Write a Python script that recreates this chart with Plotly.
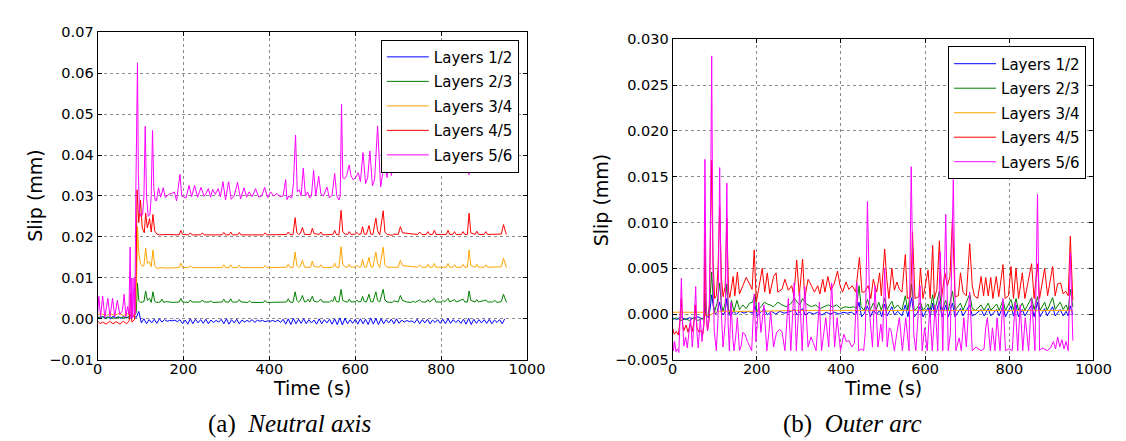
import plotly.graph_objects as go

# ---- (a) Neutral axis : slip between layers (mm) vs time (s) ----
a_blue_step = 6
a_blue = [0.0005, 0.0002, 0.0006, 0.0001, 0.0005, 0.0000, 0.0006, 0.0002, 0.0005, 0.0001,
          0.0006, 0.0002, 0.0004, 0.0000, 0.0008, 0.0003, 0.0018, -0.0010, 0.0000, -0.0012,
          -0.0002, -0.0010, -0.0001, -0.0011, 0.0000, -0.0008, -0.0002, -0.0006, -0.0004, -0.0005,
          -0.0003, -0.0007, -0.0002, -0.0012, -0.0003, -0.0013, 0.0000, -0.0012, -0.0001, -0.0010,
          -0.0002, -0.0011, -0.0001, -0.0012, -0.0003, -0.0009, -0.0004, -0.0008, -0.0001, -0.0012,
          0.0000, -0.0013, -0.0002, -0.0010, -0.0001, -0.0012, -0.0003, -0.0008, -0.0004, -0.0007,
          -0.0002, -0.0009, -0.0003, -0.0006, -0.0004, -0.0007, -0.0005, -0.0006, -0.0004, -0.0007,
          -0.0003, -0.0009, -0.0001, -0.0013, 0.0000, -0.0014, 0.0001, -0.0012, -0.0001, -0.0011,
          0.0000, -0.0012, -0.0002, -0.0010, -0.0003, -0.0013, 0.0000, -0.0012, -0.0002, -0.0010,
          -0.0001, -0.0013, 0.0000, -0.0014, 0.0002, -0.0015, 0.0001, -0.0012, -0.0002, -0.0011,
          -0.0001, -0.0013, 0.0000, -0.0012, -0.0001, -0.0014, 0.0002, -0.0013, 0.0001, -0.0014,
          0.0000, -0.0012, -0.0002, -0.0010, -0.0001, -0.0012, 0.0000, -0.0011, -0.0003, -0.0008,
          -0.0004, -0.0007, -0.0005, -0.0010, -0.0001, -0.0012, -0.0002, -0.0010, -0.0001, -0.0012,
          -0.0003, -0.0009, -0.0002, -0.0011, -0.0001, -0.0012, 0.0000, -0.0011, -0.0002, -0.0009,
          -0.0003, -0.0011, -0.0001, -0.0013, 0.0001, -0.0014, -0.0001, -0.0011, -0.0002, -0.0010,
          -0.0002, -0.0011, -0.0001, -0.0012, -0.0003, -0.0009, -0.0002, -0.0012, 0.0000]
a_blue_t = [i * a_blue_step for i in range(len(a_blue))]

a_green_t = [0, 10, 20, 30, 40, 50, 60, 70, 76, 80, 86, 90, 93, 96, 100, 104, 108, 112, 116, 121,
             125, 129, 133, 138, 146, 150, 154, 160, 175, 190, 194, 198, 212, 216, 220, 240, 244, 248,
             260, 264, 268, 290, 294, 298, 306, 310, 314, 326, 330, 334, 350, 354, 358, 386, 390, 394,
             440, 444, 448, 455, 460, 464, 468, 472, 477, 482, 486, 490, 494, 500, 504, 512, 516, 520,
             524, 540, 544, 548, 552, 556, 562, 567, 571, 576, 582, 586, 590, 600, 604, 608, 613, 617,
             621, 626, 632, 636, 641, 648, 652, 657, 665, 669, 674, 686, 690, 700, 705, 710, 720, 730,
             735, 740, 750, 755, 765, 769, 773, 784, 788, 800, 804, 808, 816, 820, 831, 835, 851, 855,
             861, 865, 869, 879, 883, 887, 904, 908, 920, 925, 930, 940, 945, 950, 952]
a_green = [0.0003, 0.0005, 0.0002, 0.0004, 0.0001, 0.0004, 0.0002, 0.0004, 0.0010, 0.0002, 0.0008,
           0.0015, 0.0087, 0.0045, 0.0040, 0.0041, 0.0042, 0.0068, 0.0045, 0.0050, 0.0040, 0.0066,
           0.0043, 0.0040, 0.0041, 0.0048, 0.0040, 0.0042, 0.0040, 0.0041, 0.0050, 0.0041, 0.0040,
           0.0046, 0.0041, 0.0041, 0.0046, 0.0041, 0.0041, 0.0044, 0.0040, 0.0041, 0.0048, 0.0041,
           0.0041, 0.0049, 0.0041, 0.0041, 0.0047, 0.0041, 0.0040, 0.0044, 0.0040, 0.0040, 0.0045,
           0.0040, 0.0041, 0.0049, 0.0041, 0.0040, 0.0066, 0.0045, 0.0041, 0.0044, 0.0057, 0.0041,
           0.0042, 0.0048, 0.0041, 0.0055, 0.0043, 0.0041, 0.0045, 0.0048, 0.0041, 0.0041, 0.0045,
           0.0042, 0.0055, 0.0042, 0.0041, 0.0072, 0.0045, 0.0042, 0.0041, 0.0048, 0.0041, 0.0042,
           0.0046, 0.0041, 0.0042, 0.0055, 0.0042, 0.0041, 0.0060, 0.0042, 0.0041, 0.0066, 0.0045,
           0.0041, 0.0072, 0.0046, 0.0041, 0.0040, 0.0044, 0.0041, 0.0057, 0.0045, 0.0041, 0.0040,
           0.0043, 0.0040, 0.0046, 0.0041, 0.0041, 0.0047, 0.0041, 0.0050, 0.0041, 0.0041, 0.0045,
           0.0041, 0.0050, 0.0041, 0.0047, 0.0041, 0.0048, 0.0041, 0.0041, 0.0068, 0.0045, 0.0041,
           0.0047, 0.0041, 0.0046, 0.0041, 0.0041, 0.0045, 0.0040, 0.0042, 0.0060, 0.0045, 0.0040]

a_orange_t = [0, 10, 20, 30, 40, 50, 60, 70, 76, 80, 84, 88, 91, 93, 96, 100, 104, 108, 112, 116,
              121, 125, 129, 133, 138, 150, 160, 190, 194, 198, 212, 216, 220, 290, 294, 298, 306,
              310, 314, 326, 330, 334, 386, 390, 394, 440, 444, 448, 455, 460, 464, 468, 472, 477,
              482, 496, 500, 504, 516, 520, 524, 548, 552, 556, 562, 567, 571, 576, 582, 586, 590,
              600, 604, 608, 613, 617, 621, 626, 632, 636, 641, 648, 652, 657, 665, 669, 674, 700,
              705, 710, 745, 750, 755, 765, 769, 773, 780, 784, 788, 812, 816, 820, 827, 831, 835,
              847, 851, 855, 861, 865, 869, 879, 883, 887, 900, 904, 908, 940, 945, 950, 952]
a_orange = [0.0010, 0.0012, 0.0008, 0.0012, 0.0009, 0.0013, 0.0008, 0.0012, 0.0010, 0.0020, 0.0005,
            0.0010, 0.0100, 0.0225, 0.0160, 0.0135, 0.0128, 0.0130, 0.0173, 0.0135, 0.0140, 0.0127,
            0.0168, 0.0130, 0.0123, 0.0125, 0.0124, 0.0125, 0.0136, 0.0125, 0.0125, 0.0130, 0.0125,
            0.0125, 0.0132, 0.0125, 0.0125, 0.0132, 0.0125, 0.0125, 0.0131, 0.0125, 0.0125, 0.0130,
            0.0125, 0.0126, 0.0133, 0.0126, 0.0125, 0.0163, 0.0130, 0.0126, 0.0128, 0.0143, 0.0126,
            0.0126, 0.0141, 0.0128, 0.0126, 0.0132, 0.0125, 0.0126, 0.0136, 0.0126, 0.0125, 0.0176,
            0.0132, 0.0127, 0.0126, 0.0133, 0.0126, 0.0127, 0.0131, 0.0126, 0.0127, 0.0145, 0.0127,
            0.0126, 0.0150, 0.0127, 0.0126, 0.0163, 0.0135, 0.0125, 0.0175, 0.0132, 0.0126, 0.0126,
            0.0143, 0.0130, 0.0126, 0.0132, 0.0126, 0.0126, 0.0133, 0.0126, 0.0126, 0.0135, 0.0126,
            0.0126, 0.0135, 0.0126, 0.0126, 0.0132, 0.0126, 0.0126, 0.0133, 0.0126, 0.0126, 0.0168,
            0.0130, 0.0126, 0.0133, 0.0126, 0.0126, 0.0132, 0.0126, 0.0127, 0.0148, 0.0130, 0.0125]

a_red_t = [0, 6, 12, 20, 28, 36, 44, 52, 60, 68, 74, 77, 80, 86, 90, 92, 96, 100, 104, 109, 112,
           116, 121, 125, 129, 133, 138, 145, 160, 190, 194, 198, 212, 216, 220, 240, 244, 248, 290,
           294, 298, 306, 310, 314, 326, 330, 334, 386, 390, 394, 440, 444, 448, 455, 460, 464, 468,
           472, 477, 482, 496, 500, 504, 516, 520, 524, 548, 552, 556, 562, 567, 571, 576, 582, 586,
           590, 600, 604, 608, 613, 617, 621, 626, 632, 636, 641, 648, 652, 657, 665, 669, 674, 686,
           690, 700, 705, 710, 745, 750, 755, 765, 769, 773, 780, 784, 788, 812, 816, 820, 827, 831,
           835, 847, 851, 855, 861, 865, 869, 879, 883, 887, 900, 904, 908, 940, 945, 950, 952]
a_red = [-0.0005, -0.0012, -0.0008, -0.0013, -0.0006, -0.0012, -0.0007, -0.0013, -0.0006, -0.0012,
         -0.0004, 0.0062, -0.0008, -0.0002, 0.0120, 0.0315, 0.0235, 0.0290, 0.0222, 0.0210, 0.0258,
         0.0222, 0.0245, 0.0212, 0.0255, 0.0215, 0.0207, 0.0205, 0.0206, 0.0205, 0.0216, 0.0206,
         0.0205, 0.0210, 0.0205, 0.0205, 0.0210, 0.0205, 0.0205, 0.0211, 0.0205, 0.0205, 0.0212,
         0.0205, 0.0205, 0.0211, 0.0205, 0.0205, 0.0210, 0.0205, 0.0206, 0.0212, 0.0206, 0.0205,
         0.0247, 0.0210, 0.0206, 0.0208, 0.0223, 0.0206, 0.0206, 0.0221, 0.0208, 0.0206, 0.0212,
         0.0205, 0.0206, 0.0216, 0.0206, 0.0205, 0.0265, 0.0212, 0.0207, 0.0206, 0.0213, 0.0206,
         0.0207, 0.0211, 0.0206, 0.0207, 0.0225, 0.0207, 0.0206, 0.0228, 0.0207, 0.0206, 0.0246,
         0.0215, 0.0205, 0.0264, 0.0212, 0.0206, 0.0204, 0.0207, 0.0206, 0.0225, 0.0210, 0.0206,
         0.0212, 0.0206, 0.0206, 0.0213, 0.0206, 0.0206, 0.0216, 0.0206, 0.0206, 0.0216, 0.0206,
         0.0206, 0.0213, 0.0206, 0.0206, 0.0213, 0.0206, 0.0206, 0.0258, 0.0210, 0.0206, 0.0214,
         0.0206, 0.0206, 0.0213, 0.0206, 0.0207, 0.0230, 0.0212, 0.0206]

a_magenta_t = [0, 3, 7, 12, 17, 24, 29, 35, 40, 46, 52, 58, 62, 66, 70, 73, 76, 78, 80, 82, 85, 87,
               89, 91, 93, 95, 98, 101, 105, 108, 111, 114, 118, 122, 125, 128, 131, 134, 137, 142,
               147, 153, 158, 166, 173, 179, 184, 192, 196, 200, 206, 213, 219, 226, 233, 241, 248,
               252, 258, 263, 268, 274, 281, 286, 292, 298, 305, 311, 318, 326, 333, 341, 347, 353,
               360, 368, 375, 382, 389, 396, 403, 410, 418, 425, 432, 438, 441, 445, 452, 456, 461,
               465, 470, 474, 479, 484, 489, 494, 498, 503, 508, 515, 520, 526, 534, 540, 546, 552,
               557, 562, 565, 568, 571, 575, 580, 586, 590, 595, 601, 607, 612, 618, 624, 629, 634,
               640, 645, 652, 659, 664, 669, 674, 679, 684, 690, 696, 701, 707, 712, 718, 723, 729,
               734, 740, 746, 751, 757, 763, 769, 775, 781, 787, 793, 799, 805, 811, 817, 823, 829,
               835, 841, 847, 853, 859, 865, 871, 877, 883, 889, 895, 901, 907, 913, 919, 925, 931,
               937, 943, 947, 952]
a_magenta = [0.0010, 0.0055, 0.0005, 0.0055, 0.0003, 0.0050, 0.0005, 0.0050, 0.0004, 0.0045,
             0.0010, 0.0020, 0.0060, 0.0005, 0.0030, 0.0010, 0.0175, 0.0000, 0.0100, 0.0003,
             0.0100, 0.0010, 0.0300, 0.0450, 0.0625, 0.0350, 0.0260, 0.0250, 0.0255, 0.0300,
             0.0470, 0.0300, 0.0250, 0.0255, 0.0300, 0.0460, 0.0320, 0.0290, 0.0288, 0.0320,
             0.0297, 0.0320, 0.0296, 0.0304, 0.0306, 0.0310, 0.0288, 0.0353, 0.0300, 0.0298,
             0.0295, 0.0326, 0.0298, 0.0326, 0.0297, 0.0321, 0.0299, 0.0305, 0.0318, 0.0297,
             0.0316, 0.0304, 0.0318, 0.0298, 0.0335, 0.0290, 0.0335, 0.0292, 0.0300, 0.0333,
             0.0293, 0.0320, 0.0297, 0.0310, 0.0298, 0.0318, 0.0297, 0.0300, 0.0321, 0.0296,
             0.0310, 0.0300, 0.0306, 0.0298, 0.0300, 0.0340, 0.0291, 0.0300, 0.0295, 0.0330,
             0.0449, 0.0310, 0.0315, 0.0300, 0.0368, 0.0300, 0.0310, 0.0295, 0.0300, 0.0363,
             0.0300, 0.0348, 0.0305, 0.0300, 0.0322, 0.0295, 0.0302, 0.0355, 0.0300, 0.0290,
             0.0300, 0.0524, 0.0345, 0.0342, 0.0350, 0.0376, 0.0350, 0.0340, 0.0345, 0.0357,
             0.0335, 0.0406, 0.0330, 0.0345, 0.0410, 0.0325, 0.0340, 0.0471, 0.0322, 0.0355,
             0.0395, 0.0345, 0.0400, 0.0350, 0.0385, 0.0365, 0.0410, 0.0375, 0.0395, 0.0370,
             0.0390, 0.0375, 0.0392, 0.0368, 0.0400, 0.0375, 0.0395, 0.0365, 0.0400, 0.0362,
             0.0395, 0.0370, 0.0405, 0.0360, 0.0398, 0.0370, 0.0392, 0.0365, 0.0400, 0.0375,
             0.0395, 0.0370, 0.0405, 0.0365, 0.0352, 0.0395, 0.0380, 0.0400, 0.0385, 0.0405,
             0.0380, 0.0400, 0.0385, 0.0395, 0.0390, 0.0400, 0.0372, 0.0395, 0.0385, 0.0375]

# ---- (b) Outer arc ----
b_blue_t = [0, 10, 20, 30, 40, 50, 60, 70, 75, 77, 80, 85, 89, 93, 97, 101, 106, 112, 116, 121, 125,
            129, 133, 138, 145, 152, 160, 170, 180, 190, 196, 201, 210, 218, 225, 235, 245, 255, 265,
            275, 290, 296, 309, 315, 325, 335, 345, 355, 365, 375, 385, 395, 405, 415, 425, 435, 443,
            449, 456, 463, 470, 477, 485, 492, 497, 504, 510, 521, 527, 535, 545, 553, 559, 568, 574,
            580, 589, 595, 607, 612, 618, 623, 634, 640, 649, 655, 665, 671, 684, 690, 706, 712, 720,
            733, 740, 750, 756, 770, 776, 785, 791, 804, 810, 816, 822, 831, 837, 853, 859, 867, 873,
            884, 890, 903, 909, 921, 928, 935, 940, 945, 951]
b_blue = [-0.0004, -0.0006, -0.0003, -0.0006, -0.0004, -0.0005, -0.0003, -0.0005, -0.0004, 0.0012,
          -0.0002, -0.0004, 0.0005, 0.0021, 0.0008, 0.0000, 0.0002, 0.0013, 0.0002, -0.0001, 0.0003,
          0.0017, 0.0000, -0.0002, 0.0003, 0.0000, 0.0003, 0.0001, 0.0003, 0.0001, 0.0009, -0.0002,
          0.0002, 0.0006, -0.0001, 0.0003, 0.0000, 0.0003, 0.0001, 0.0002, 0.0005, -0.0001, 0.0006,
          -0.0001, 0.0002, 0.0000, 0.0002, -0.0001, 0.0002, 0.0000, 0.0002, 0.0000, 0.0002, 0.0001,
          0.0002, -0.0001, 0.0013, -0.0003, 0.0001, 0.0009, -0.0003, 0.0004, 0.0000, 0.0004, -0.0003,
          0.0011, -0.0002, 0.0008, -0.0001, 0.0003, -0.0002, 0.0010, -0.0003, 0.0018, -0.0003, 0.0000,
          0.0009, -0.0003, 0.0007, -0.0003, 0.0012, -0.0003, 0.0014, -0.0003, 0.0010, -0.0003, 0.0012,
          -0.0003, 0.0006, -0.0002, 0.0010, -0.0002, 0.0000, 0.0005, -0.0002, 0.0006, -0.0002, 0.0005,
          -0.0002, 0.0009, -0.0003, 0.0009, -0.0002, 0.0010, -0.0003, 0.0005, -0.0002, 0.0010,
          -0.0003, 0.0013, -0.0003, 0.0006, -0.0002, 0.0008, -0.0002, 0.0005, -0.0002, 0.0003,
          -0.0002, 0.0009, -0.0001]

b_green_t = [0, 10, 20, 30, 40, 50, 60, 70, 75, 77, 80, 84, 88, 93, 97, 100, 106, 112, 116, 120, 125,
             129, 133, 136, 140, 146, 153, 159, 167, 175, 183, 190, 196, 200, 210, 218, 225, 232, 240,
             250, 260, 270, 280, 290, 296, 302, 309, 318, 330, 340, 350, 360, 370, 380, 390, 400, 410,
             420, 430, 437, 443, 448, 455, 463, 470, 477, 484, 490, 496, 504, 510, 521, 527, 535, 545,
             553, 559, 568, 574, 580, 589, 595, 607, 612, 618, 623, 634, 640, 649, 655, 665, 671, 684,
             690, 706, 712, 720, 733, 740, 750, 756, 770, 776, 785, 791, 804, 810, 816, 822, 831, 837,
             853, 859, 867, 873, 884, 890, 903, 909, 921, 928, 935, 940, 945, 951]
b_green = [-0.0006, -0.0004, -0.0007, -0.0005, -0.0007, -0.0004, -0.0007, -0.0005, -0.0006, 0.0022,
           0.0000, -0.0002, 0.0010, 0.0046, 0.0010, 0.0003, 0.0012, 0.0034, 0.0010, 0.0003, 0.0012,
           0.0033, 0.0005, 0.0000, 0.0015, 0.0003, 0.0015, 0.0005, 0.0010, 0.0006, 0.0012, 0.0013,
           0.0022, 0.0003, 0.0008, 0.0013, 0.0011, 0.0010, 0.0008, 0.0013, 0.0010, 0.0008, 0.0011,
           0.0017, 0.0013, 0.0010, 0.0017, 0.0011, 0.0008, 0.0010, 0.0006, 0.0008, 0.0010, 0.0008,
           0.0010, 0.0006, 0.0008, 0.0007, 0.0008, 0.0006, 0.0031, 0.0008, 0.0004, 0.0016, 0.0005,
           0.0012, 0.0005, 0.0013, 0.0004, 0.0017, 0.0005, 0.0014, 0.0006, 0.0010, 0.0004, 0.0020,
           0.0004, 0.0033, 0.0004, 0.0006, 0.0013, 0.0004, 0.0011, 0.0004, 0.0021, 0.0004, 0.0025,
           0.0004, 0.0015, 0.0004, 0.0025, 0.0004, 0.0012, 0.0004, 0.0022, 0.0006, 0.0004, 0.0010,
           0.0004, 0.0012, 0.0004, 0.0011, 0.0004, 0.0015, 0.0004, 0.0016, 0.0005, 0.0017, 0.0004,
           0.0012, 0.0004, 0.0018, 0.0005, 0.0019, 0.0004, 0.0013, 0.0004, 0.0018, 0.0005, 0.0013,
           0.0005, 0.0010, 0.0004, 0.0027, 0.0008]

b_orange_t = [0, 20, 40, 60, 75, 80, 90, 100, 120, 150, 200, 300, 400, 500, 600, 700, 800, 900, 951]
b_orange = [0.0002, 0.0002, 0.0002, 0.0002, 0.0002, -0.0002, -0.0001, 0.0002, 0.0003, 0.0003,
            0.0003, 0.0004, 0.0004, 0.0004, 0.0004, 0.0004, 0.0004, 0.0004, 0.0004]

b_red_t = [0, 4, 9, 14, 18, 21, 24, 27, 32, 37, 42, 47, 52, 54, 58, 63, 68, 72, 75, 77, 80, 83, 87,
           90, 93, 96, 100, 104, 108, 112, 116, 120, 125, 129, 133, 136, 140, 144, 148, 154, 159, 167,
           175, 183, 189, 194, 199, 206, 213, 219, 225, 231, 240, 246, 250, 260, 267, 275, 283, 288,
           295, 301, 309, 314, 322, 330, 337, 345, 350, 357, 362, 369, 376, 384, 392, 398, 404, 412,
           419, 427, 435, 444, 450, 456, 465, 471, 477, 485, 492, 496, 504, 509, 514, 521, 527, 533,
           539, 545, 553, 558, 566, 570, 576, 585, 589, 595, 601, 607, 612, 618, 622, 628, 634, 639,
           647, 653, 659, 665, 671, 679, 684, 690, 698, 706, 712, 717, 725, 733, 739, 744, 750, 756,
           761, 769, 775, 785, 790, 798, 804, 810, 816, 822, 831, 837, 853, 859, 867, 872, 884, 891,
           903, 909, 915, 922, 928, 934, 940, 945, 951]
b_red = [-0.0015, -0.0022, -0.0019, -0.0023, -0.0005, 0.0017, -0.0012, -0.0018, -0.0012, -0.0020,
         -0.0010, -0.0019, -0.0005, 0.0010, -0.0015, -0.0020, -0.0018, -0.0022, -0.0010, 0.0088,
         0.0000, -0.0018, -0.0005, 0.0080, 0.0168, 0.0060, 0.0017, 0.0020, 0.0050, 0.0117, 0.0040,
         0.0019, 0.0030, 0.0105, 0.0025, 0.0018, 0.0031, 0.0041, 0.0020, 0.0046, 0.0022, 0.0030,
         0.0040, 0.0033, 0.0027, 0.0070, 0.0013, 0.0031, 0.0050, 0.0024, 0.0045, 0.0022, 0.0041,
         0.0045, 0.0024, 0.0027, 0.0038, 0.0026, 0.0031, 0.0020, 0.0059, 0.0020, 0.0060, 0.0017,
         0.0038, 0.0031, 0.0024, 0.0031, 0.0022, 0.0038, 0.0024, 0.0041, 0.0026, 0.0033, 0.0047,
         0.0031, 0.0024, 0.0035, 0.0027, 0.0031, 0.0024, 0.0062, 0.0024, 0.0024, 0.0031, 0.0017,
         0.0038, 0.0024, 0.0045, 0.0020, 0.0071, 0.0038, 0.0017, 0.0050, 0.0026, 0.0035, 0.0027,
         0.0024, 0.0065, 0.0017, 0.0019, 0.0090, 0.0017, 0.0019, 0.0050, 0.0017, 0.0031, 0.0048,
         0.0017, 0.0075, 0.0017, 0.0027, 0.0080, 0.0017, 0.0045, 0.0031, 0.0041, 0.0105, 0.0019,
         0.0020, 0.0045, 0.0024, 0.0020, 0.0077, 0.0031, 0.0020, 0.0017, 0.0041, 0.0020, 0.0040,
         0.0020, 0.0040, 0.0017, 0.0041, 0.0019, 0.0054, 0.0017, 0.0020, 0.0052, 0.0017, 0.0050,
         0.0017, 0.0045, 0.0017, 0.0055, 0.0017, 0.0055, 0.0017, 0.0050, 0.0020, 0.0052, 0.0020,
         0.0033, 0.0034, 0.0022, 0.0025, 0.0020, 0.0085, 0.0015]

b_magenta_t = [0, 2, 5, 8, 12, 15, 19, 21, 24, 27, 31, 35, 39, 43, 47, 51, 55, 58, 61, 66, 70, 74, 77,
               80, 83, 87, 90, 93, 96, 99, 104, 108, 112, 116, 120, 125, 129, 132, 135, 139, 143, 146,
               150, 154, 159, 163, 167, 172, 178, 183, 188, 194, 198, 205, 210, 217, 224, 229, 233,
               240, 247, 254, 260, 267, 275, 281, 289, 294, 302, 308, 314, 322, 329, 335, 341, 349,
               354, 364, 371, 378, 385, 391, 399, 407, 413, 419, 426, 432, 438, 442, 448, 454, 458,
               463, 469, 475, 481, 488, 495, 499, 504, 510, 515, 519, 527, 533, 539, 546, 554, 562,
               567, 573, 578, 588, 593, 599, 605, 611, 617, 624, 630, 636, 642, 649, 655, 660, 667,
               673, 681, 686, 692, 698, 706, 712, 721, 733, 740, 744, 748, 755, 760, 766, 771, 778,
               785, 791, 799, 807, 814, 820, 826, 832, 838, 846, 853, 861, 867, 872, 878, 890, 898,
               905, 910, 915, 920, 925, 930, 935, 940, 945, 949, 951]
b_magenta = [-0.0028, -0.0040, -0.0030, -0.0041, -0.0038, -0.0042, 0.0010, 0.0039, -0.0010, -0.0035,
             -0.0025, -0.0037, -0.0020, -0.0005, -0.0036, -0.0010, 0.0030, -0.0020, -0.0037, -0.0005,
             -0.0030, -0.0010, 0.0169, 0.0000, -0.0018, -0.0005, 0.0100, 0.0282, 0.0050, -0.0018,
             -0.0040, -0.0005, 0.0160, 0.0000, -0.0036, -0.0010, 0.0143, -0.0010, -0.0040, 0.0013,
             -0.0025, -0.0040, -0.0025, -0.0004, -0.0040, -0.0035, -0.0020, -0.0022, -0.0030,
             -0.0036, -0.0040, 0.0022, -0.0030, 0.0013, -0.0020, 0.0010, -0.0040, -0.0020, 0.0003,
             -0.0036, -0.0020, -0.0017, -0.0019, -0.0040, 0.0017, -0.0040, 0.0034, -0.0040, 0.0024,
             -0.0040, 0.0030, -0.0036, -0.0025, -0.0032, -0.0040, 0.0013, -0.0040, -0.0004, -0.0036,
             0.0034, -0.0036, -0.0004, -0.0040, -0.0022, -0.0030, -0.0029, -0.0036, -0.0032, 0.0034,
             -0.0040, -0.0038, -0.0040, -0.0020, 0.0123, -0.0004, -0.0036, 0.0031, -0.0036, -0.0011,
             -0.0030, 0.0050, -0.0036, -0.0015, -0.0018, -0.0040, -0.0020, -0.0004, -0.0040, -0.0004,
             -0.0040, 0.0161, -0.0022, -0.0040, 0.0031, -0.0040, -0.0015, -0.0040, 0.0006, -0.0040,
             0.0010, -0.0040, 0.0068, -0.0040, 0.0109, -0.0040, -0.0022, 0.0147, -0.0040, -0.0026,
             -0.0040, -0.0004, -0.0036, 0.0024, -0.0040, -0.0036, -0.0040, -0.0038, -0.0015, -0.0004,
             -0.0040, -0.0015, -0.0040, -0.0004, -0.0040, 0.0017, -0.0040, -0.0038, -0.0040, 0.0013,
             -0.0040, 0.0010, -0.0040, -0.0004, -0.0040, 0.0017, -0.0040, 0.0131, -0.0040, -0.0037,
             -0.0040, -0.0037, -0.0030, -0.0038, -0.0025, -0.0036, -0.0028, -0.0038, -0.0030, -0.0040,
             0.0067, -0.0020, -0.0029]

names = ["Layers 1/2", "Layers 2/3", "Layers 3/4", "Layers 4/5", "Layers 5/6"]
colors = ["#0000ff", "#008000", "#ffa500", "#ff0000", "#ff00ff"]

W, H = 1126, 441


def fx(px):
    return px / W


def fy(py):
    return 1 - py / H


fig = go.Figure()

panel_a = [(a_blue_t, a_blue), (a_green_t, a_green), (a_orange_t, a_orange),
           (a_red_t, a_red), (a_magenta_t, a_magenta)]
panel_b = [(b_blue_t, b_blue), (b_green_t, b_green), (b_orange_t, b_orange),
           (b_red_t, b_red), (b_magenta_t, b_magenta)]

for i, (t, v) in enumerate(panel_a):
    fig.add_trace(go.Scatter(x=t, y=v, mode="lines", name=names[i],
                             line=dict(color=colors[i], width=1),
                             xaxis="x", yaxis="y", legend="legend",
                             legendgroup="a%d" % i))
for i, (t, v) in enumerate(panel_b):
    fig.add_trace(go.Scatter(x=t, y=v, mode="lines", name=names[i],
                             line=dict(color=colors[i], width=1),
                             xaxis="x2", yaxis="y2", legend="legend2",
                             legendgroup="b%d" % i))

tick_font = dict(family="DejaVu Sans", size=14.5, color="black")
axis_style = dict(showline=True, linecolor="black", linewidth=1, mirror="ticks",
                  ticks="inside", ticklen=4, tickcolor="black",
                  showgrid=True, gridcolor="#8c8c8c", griddash="dot", gridwidth=1,
                  zeroline=False, tickfont=tick_font)

legend_style = dict(xanchor="right", yanchor="top", bgcolor="white",
                    bordercolor="black", borderwidth=1, tracegroupgap=2, itemwidth=42,
                    font=dict(family="DejaVu Sans", size=15, color="black"))

fig.update_layout(
    width=W, height=H,
    margin=dict(l=0, r=0, t=0, b=0),
    paper_bgcolor="white", plot_bgcolor="white",
    xaxis=dict(domain=[fx(86.3), fx(524.8)], range=[0, 1000], dtick=200,
               anchor="y", ticklabelstandoff=-4, **axis_style),
    yaxis=dict(domain=[fy(356.7), fy(16.8)], range=[-0.01, 0.07], dtick=0.01,
               tickformat=".2f", anchor="x", **axis_style),
    xaxis2=dict(domain=[fx(673.3), fx(1103)], range=[0, 1000], dtick=200,
                anchor="y2", ticklabelstandoff=-4, **axis_style),
    yaxis2=dict(domain=[fy(356.8), fy(24.3)], range=[-0.005, 0.030], dtick=0.005,
                tickformat=".3f", anchor="x2", **axis_style),
    legend=dict(x=fx(516.4), y=fy(24.5), **legend_style),
    legend2=dict(x=fx(1095.4), y=fy(31.6), **legend_style),
)

title_font = dict(family="DejaVu Sans", size=19, color="black")
cap_font = dict(family="Liberation Serif", size=25, color="black")
labels = [
    (305.5, 386, "Time (s)", 0, title_font, "middle"),
    (888, 386, "Time (s)", 0, title_font, "middle"),
    (22.5, 186.5, "Slip (mm)", -90, title_font, "middle"),
    (600, 190.5, "Slip (mm)", -90, title_font, "middle"),
    (282, 440, "(a)  <i>Neutral axis</i>", 0, cap_font, "bottom"),
    (857, 440, "(b)  <i>Outer arc</i>", 0, cap_font, "bottom"),
]
for x, y, text, angle, font, ya in labels:
    fig.add_annotation(x=fx(x), y=fy(y), xref="paper", yref="paper", text=text,
                       showarrow=False, textangle=angle, font=font,
                       xanchor="center", yanchor=ya)

fig.write_html("out.html")
